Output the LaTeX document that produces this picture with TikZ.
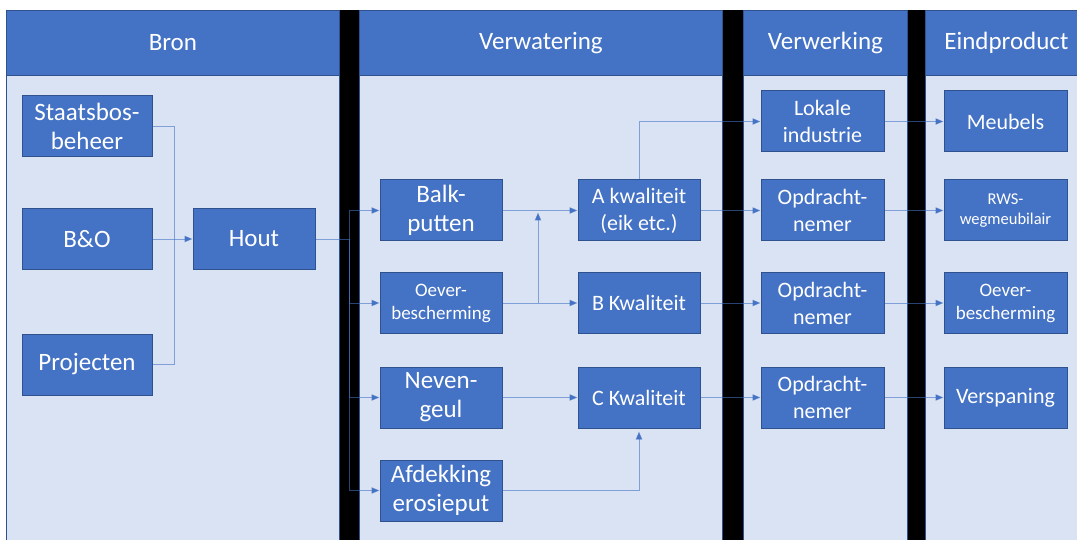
\documentclass[tikz,border=0pt]{standalone}
\usepackage{fontspec}
\setmainfont{Carlito}
\usetikzlibrary{arrows.meta}
\definecolor{hdr}{HTML}{4472C4}
\definecolor{bdr}{HTML}{2F528F}
\definecolor{bg}{HTML}{DAE3F3}
\begin{document}
\begin{tikzpicture}[x=1pt,y=-1pt,
  box/.style={rectangle, fill=hdr, draw=bdr, line width=1pt, text=white,
    minimum width=122pt, minimum height=61pt, inner sep=0pt, align=center,
    font=\fontsize{25}{29}\selectfont},
  midtext/.style={font=\fontsize{22}{27}\selectfont},
  smalltext/.style={font=\fontsize{19}{23}\selectfont},
  tinytext/.style={font=\fontsize{16.5}{20}\selectfont},
  conn/.style={draw=hdr, draw opacity=0.6, line width=0.9pt, -{Triangle[length=8pt,width=6.5pt]}},
  plainline/.style={draw=hdr, draw opacity=0.6, line width=0.9pt},
  colbody/.style={fill=bg, draw=bdr, line width=0.8pt},
  colhead/.style={rectangle, fill=hdr, draw=bdr, line width=0.8pt, text=white,
    minimum height=65pt, inner sep=0pt, anchor=north west,
    font=\fontsize{25}{29}\selectfont},
  bar/.style={fill=black}]
\clip (0,0) rectangle (1077,540);
\fill[white] (0,0) rectangle (1077,540);
% black bars
\path[bar] (339,10) rectangle (359,545);
\path[bar] (722,10) rectangle (743,545);
\path[bar] (907,10) rectangle (925,545);
% column bodies
\path[colbody] (6,75) rectangle (339,545);
\path[colbody] (359,75) rectangle (722,545);
\path[colbody] (743,75) rectangle (907,545);
\path[colbody] (925,75) rectangle (1087,545);
% headers
\node[colhead, minimum width=333pt] (hbron) at (6,10) {Bron};
\node[colhead, minimum width=363pt] (hverw) at (359,10) {Verwatering};
\node[colhead, minimum width=164pt] (hverk) at (743,10) {Verwerking};
\node[colhead, minimum width=162pt] (heind) at (925,10) {Eindproduct};
% boxes
\node[box, minimum width=130pt] (staats) at (87,126.5) {Staatsbos-\\beheer};
\node[box, minimum width=130pt] (bo) at (87,239) {B\&O};
\node[box, minimum width=130pt] (proj) at (87,364.5) {Projecten};
\node[box] (hout) at (254,239) {Hout};
\node[box] (balk) at (441,210.5) {Balk-\\putten};
\node[box, smalltext] (oever1) at (441,303) {Oever-\\bescherming};
\node[box] (neven) at (441,397.5) {Neven-\\geul};
\node[box] (afdek) at (441,490.5) {Afdekking\\erosieput};
\node[box, midtext] (akw) at (639,210.5) {A kwaliteit\\(eik etc.)};
\node[box, midtext] (bkw) at (639,303) {B Kwaliteit};
\node[box, midtext] (ckw) at (639,397.5) {C Kwaliteit};
\node[box, midtext, minimum width=123pt] (lok) at (822.5,121.5) {Lokale\\industrie};
\node[box, midtext, minimum width=123pt] (opd1) at (822.5,210.5) {Opdracht-\\nemer};
\node[box, midtext, minimum width=123pt] (opd2) at (822.5,303) {Opdracht-\\nemer};
\node[box, midtext, minimum width=123pt] (opd3) at (822.5,397.5) {Opdracht-\\nemer};
\node[box, midtext, minimum width=123pt] (meub) at (1005.5,121.5) {Meubels};
\node[box, minimum width=123pt, tinytext] (rws) at (1005.5,210.5) {RWS-\\wegmeubilair};
\node[box, minimum width=123pt, smalltext] (oever2) at (1005.5,303) {Oever-\\bescherming};
\node[box, midtext, minimum width=123pt] (versp) at (1005.5,397.5) {Verspaning};
% connectors
\coordinate (jL) at (174,239);
\draw[plainline] (staats.east) -| (jL);
\draw[plainline] (proj.east) -| (jL);
\draw[conn] (bo) -- (hout);
\coordinate (jH) at (349,239);
\draw[plainline] (hout.east) -- (jH);
\draw[conn] (jH) |- (balk.west);
\draw[conn] (jH) |- (oever1.west);
\draw[conn] (jH) |- (neven.west);
\draw[conn] (jH) |- (afdek.west);
\draw[conn] (balk) -- (akw);
\draw[conn] (oever1) -- (bkw);
\coordinate (jO) at (538,303);
\coordinate (jA) at (538,212.5);
\draw[conn] (jO) -- (jA);
\draw[conn] (neven) -- (ckw);
\draw[conn, shorten >=3pt] (afdek.east) -| (ckw.south);
\draw[conn] (akw.north) |- (lok.west);
\draw[conn] (akw) -- (opd1);
\draw[conn] (bkw) -- (opd2);
\draw[conn] (ckw) -- (opd3);
\draw[conn] (lok) -- (meub);
\draw[conn] (opd1) -- (rws);
\draw[conn] (opd2) -- (oever2);
\draw[conn] (opd3) -- (versp);
\end{tikzpicture}
\end{document}
